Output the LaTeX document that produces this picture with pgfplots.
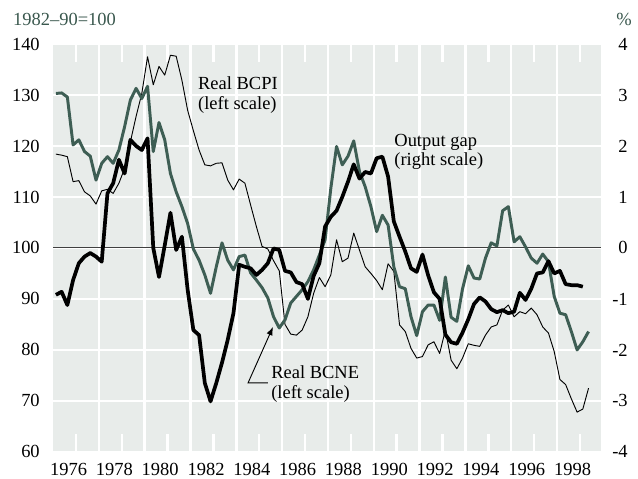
\documentclass[border=0pt]{standalone}
\usepackage{fontspec}
\setmainfont{Liberation Serif}
\usepackage{pgfplots}
\usepackage{pgfplotstable}
\pgfplotsset{compat=1.18}
\usetikzlibrary{arrows.meta}

\definecolor{panel}{RGB}{232,236,234}
\definecolor{bcne}{RGB}{62,94,84}
\definecolor{units}{RGB}{58,88,78}

% quarterly data: real BCPI and BCNE (1982-90=100), output gap (%)
\pgfplotstableread{
date     bcpi  bcne  gap
1975.125 118.4 130.3 -0.92
1975.375 118.2 130.4 -0.86
1975.625 117.9 129.6 -1.12
1975.875 113.0 120.2 -0.63
1976.125 113.2 121.2 -0.30
1976.375 111.0 118.9 -0.17
1976.625 110.2 118.0 -0.10
1976.875 108.6 113.3 -0.17
1977.125 111.2 116.6 -0.27
1977.375 111.5 117.9 1.07
1977.625 110.7 116.6 1.27
1977.875 112.7 119.2 1.73
1978.125 115.6 123.8 1.46
1978.375 120.8 129.0 2.12
1978.625 125.8 131.3 2.00
1978.875 130.3 129.3 1.92
1979.125 137.5 131.7 2.15
1979.375 132.0 118.9 0.00
1979.625 135.6 124.6 -0.57
1979.875 133.9 121.2 0.05
1980.125 137.8 114.6 0.69
1980.375 137.6 111.0 -0.04
1980.625 132.9 108.1 0.22
1980.875 127.0 104.8 -0.82
1981.125 123.0 99.8 -1.61
1981.375 119.2 97.6 -1.71
1981.625 116.3 94.7 -2.65
1981.875 116.1 91.1 -3.01
1982.125 116.6 96.3 -2.65
1982.375 116.7 101.0 -2.25
1982.625 113.3 97.6 -1.80
1982.875 111.4 95.7 -1.28
1983.125 113.5 98.3 -0.33
1983.375 112.7 98.6 -0.37
1983.625 108.4 95.1 -0.40
1983.875 104.2 93.7 -0.53
1984.125 100.3 92.2 -0.43
1984.375 99.8 90.2 -0.30
1984.625 97.5 86.5 -0.01
1984.875 95.5 84.3 -0.04
1985.125 85.0 85.9 -0.45
1985.375 83.1 89.2 -0.48
1985.625 82.9 90.5 -0.67
1985.875 83.9 91.8 -0.71
1986.125 86.5 93.4 -1.00
1986.375 91.1 95.7 -0.55
1986.625 94.2 98.6 -0.30
1986.875 92.4 101.6 0.42
1987.125 94.7 111.7 0.61
1987.375 101.6 119.9 0.73
1987.625 97.3 116.3 1.00
1987.875 98.0 118.0 1.30
1988.125 102.9 121.0 1.64
1988.375 99.6 115.0 1.36
1988.625 96.3 112.0 1.49
1988.875 95.0 108.1 1.46
1989.125 93.6 103.2 1.76
1989.375 91.8 106.4 1.79
1989.625 96.9 104.5 1.40
1989.875 95.4 96.3 0.52
1990.125 84.9 92.4 0.22
1990.375 83.6 92.0 -0.07
1990.625 80.3 86.5 -0.40
1990.875 78.4 82.8 -0.47
1991.125 78.7 87.5 -0.13
1991.375 81.0 88.8 -0.54
1991.625 81.6 88.8 -0.87
1991.875 79.3 85.8 -1.00
1992.125 83.9 94.3 -1.70
1992.375 78.0 86.4 -1.85
1992.625 76.3 85.6 -1.88
1992.875 78.4 92.0 -1.66
1993.125 81.2 96.5 -1.40
1993.375 80.9 94.1 -1.10
1993.625 80.7 93.9 -0.97
1993.875 82.9 98.0 -1.05
1994.125 84.5 101.0 -1.20
1994.375 84.9 100.4 -1.26
1994.625 87.8 107.3 -1.22
1994.875 88.8 108.1 -1.28
1995.125 86.5 101.2 -1.25
1995.375 87.5 102.2 -0.88
1995.625 87.1 100.2 -1.02
1995.875 88.2 98.0 -0.80
1996.125 86.9 97.0 -0.50
1996.375 84.5 98.8 -0.48
1996.625 83.3 97.3 -0.26
1996.875 79.7 90.5 -0.50
1997.125 74.2 87.2 -0.45
1997.375 73.2 86.9 -0.71
1997.625 70.4 83.6 -0.73
1997.875 67.8 80.0 -0.73
1998.125 68.4 81.6 -0.76
1998.375 72.5 83.6 nan
}\commod

\begin{document}
\begin{tikzpicture}
\path[use as bounding box] (-28.7pt,-14.6pt) rectangle (316.5pt,244.5pt);

% left scale: commodity prices
\begin{axis}[
    scale only axis,
    width=296.5pt, height=220.7pt,
    xmin=1975, xmax=1998.92,
    ymin=60, ymax=140,
    axis background/.style={fill=panel},
    axis line style={draw=none},
    xtick={1976,1978,...,1998},
    xtick pos=both, tick align=inside,
    major tick length=9.5pt,
    xtick style={draw=white, line width=1.3pt},
    ytick={60,70,...,140},
    ytick style={draw=none},
    ymajorgrids,
    major grid style={white, line width=1.3pt},
    extra x ticks={1977,1979,...,1997},
    extra x tick labels={},
    extra x tick style={grid=major, major tick length=0pt},
    xticklabel style={anchor=north, inner sep=0pt, yshift=-6pt, xshift=-4pt},
    yticklabel style={anchor=east, inner sep=0pt, xshift=-7pt},
    /pgf/number format/assume math mode=true,
    /pgf/number format/1000 sep={},
]
\draw[line width=0.5pt, black!75] (axis cs:1975,100) -- (axis cs:1998.92,100);
\addplot[line width=0.5pt, black, line join=round] table[x=date, y=bcpi] {\commod};
\addplot[line width=1.6pt, bcne, line join=round] table[x=date, y=bcne] {\commod};
\end{axis}

% right scale: output gap
\begin{axis}[
    scale only axis,
    width=296.5pt, height=220.7pt,
    xmin=1975, xmax=1998.92,
    ymin=-4, ymax=4,
    hide x axis,
    axis y line*=right,
    axis line style={draw=none},
    ytick={-4,-3,...,4},
    ytick style={draw=none},
    yticklabel style={anchor=east, inner sep=0pt, xshift=14.6pt},
    /pgf/number format/assume math mode=true,
]
\addplot[line width=2pt, black, line join=round] table[x=date, y=gap] {\commod};
\end{axis}

% labels
\node[anchor=west, inner sep=0pt, text=units] at (-21.8pt,234pt) {1982--90=100};
\node[anchor=center, inner sep=0pt, text=units] at (309pt,234pt) {\%};

\node[anchor=base west, inner sep=0pt] at (78.3pt,196.2pt) {Real BCPI};
\node[anchor=base west, inner sep=0pt] at (78.3pt,185pt) {(left scale)};
\node[anchor=base west, inner sep=0pt] at (184.5pt,165.5pt) {Output gap};
\node[anchor=base west, inner sep=0pt] at (184.5pt,154.7pt) {(right scale)};
\node[anchor=base west, inner sep=0pt] at (117.9pt,39.9pt) {Real BCNE};
\node[anchor=base west, inner sep=0pt] at (117.9pt,29pt) {(left scale)};
\draw[line width=0.5pt, -{Latex[length=4.5pt,width=3.5pt]}]
    (116.3pt,37.3pt) -- (105.5pt,37.3pt) -- (119pt,67.6pt);
\end{tikzpicture}
\end{document}
